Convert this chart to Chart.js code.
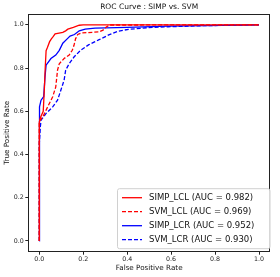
<!DOCTYPE html>
<html><head><meta charset="utf-8">
<script src="https://cdn.jsdelivr.net/npm/chart.js@4/dist/chart.umd.min.js"></script>
<style>html,body{margin:0;padding:0;background:#fff}#wrap{width:280px;height:277px}</style>
</head><body><div id="wrap"><canvas id="c" width="280" height="277"></canvas></div>
<script>
const titleText = "ROC Curve : SIMP vs. SVM";
const xLabel = "False Positive Rate";
const yLabel = "True Positive Rate";
const tickValues = [0, 0.2, 0.4, 0.6, 0.8, 1.0];
const seriesNames = ["SIMP_LCL (AUC = 0.982)", "SVM_LCL (AUC = 0.969)", "SIMP_LCR (AUC = 0.952)", "SVM_LCR (AUC = 0.930)"];

const simpLclFpr = [0, 0, 0.005, 0.018, 0.023, 0.027, 0.031, 0.037, 0.047, 0.055, 0.063, 0.072, 0.09, 0.107, 0.12, 0.13, 0.155, 0.182, 0.2, 1.0];
const simpLclTpr = [0, 0.55, 0.57, 0.60, 0.70, 0.80, 0.88, 0.895, 0.922, 0.935, 0.945, 0.958, 0.962, 0.965, 0.972, 0.98, 0.988, 0.998, 1.0, 1.0];

const svmLclFpr = [0, 0, 0.005, 0.016, 0.038, 0.061, 0.075, 0.083, 0.091, 0.113, 0.136, 0.15, 0.158, 0.165, 0.175, 0.19, 0.27, 0.29, 0.305, 0.32, 1.0];
const svmLclTpr = [0, 0.55, 0.56, 0.574, 0.62, 0.667, 0.713, 0.79, 0.82, 0.844, 0.86, 0.882, 0.905, 0.935, 0.955, 0.962, 0.967, 0.975, 0.99, 0.999, 1.0];

const simpLcrFpr = [0, 0, 0.002, 0.008, 0.02, 0.026, 0.031, 0.053, 0.075, 0.091, 0.107, 0.127, 0.14, 0.16, 0.182, 0.209, 0.254, 0.4, 0.586, 1.0];
const simpLcrTpr = [0, 0.55, 0.62, 0.651, 0.667, 0.759, 0.813, 0.844, 0.86, 0.882, 0.915, 0.935, 0.948, 0.955, 0.972, 0.98, 0.985, 0.988, 0.994, 1.0];

const svmLcrFpr = [0, 0, 0.005, 0.008, 0.031, 0.061, 0.083, 0.098, 0.113, 0.12, 0.136, 0.158, 0.188, 0.224, 0.254, 0.27, 0.316, 0.361, 0.406, 0.496, 0.586, 0.75, 1.0];
const svmLcrTpr = [0, 0.45, 0.53, 0.559, 0.59, 0.62, 0.651, 0.697, 0.744, 0.79, 0.82, 0.851, 0.882, 0.907, 0.922, 0.93, 0.953, 0.971, 0.979, 0.987, 0.991, 0.996, 1.0];

const FONT = "'DejaVu Sans', sans-serif";
const pts = (xs, ys) => xs.map((x, i) => ({x: x, y: ys[i]}));

const frameAndText = {
  id: 'frameAndText',
  afterDraw(chart) {
    const ctx = chart.ctx, a = chart.chartArea;
    ctx.save();
    ctx.strokeStyle = '#222';
    ctx.lineWidth = 1;
    ctx.strokeRect(Math.round(a.left) + 0.5, Math.round(a.top) + 0.5, Math.round(a.right - a.left) - 1, Math.round(a.bottom - a.top) - 1);
    // title
    ctx.fillStyle = '#111';
    ctx.font = "7.5px " + FONT;
    ctx.textAlign = 'center';
    ctx.textBaseline = 'middle';
    ctx.fillText(titleText, (a.left + a.right) / 2, 7);
    // legend
    const bx = a.right - 153, by = a.bottom - 63.5, bw = 152.5, bh = 60;
    ctx.fillStyle = 'rgba(255,255,255,0.85)';
    ctx.strokeStyle = '#d0d0d0';
    ctx.lineWidth = 1;
    ctx.beginPath();
    if (ctx.roundRect) ctx.roundRect(bx + 0.5, by + 0.5, bw, bh, 2); else ctx.rect(bx + 0.5, by + 0.5, bw, bh);
    ctx.fill(); ctx.stroke();
    ctx.font = "8.5px " + FONT;
    ctx.textAlign = 'left';
    chart.data.datasets.forEach((ds, i) => {
      const y = by + 9.5 + i * 14;
      ctx.strokeStyle = ds.borderColor;
      ctx.lineWidth = 1.3;
      ctx.setLineDash(ds.borderDash || []);
      ctx.beginPath(); ctx.moveTo(bx + 5, y); ctx.lineTo(bx + 25, y); ctx.stroke();
      ctx.setLineDash([]);
      ctx.fillStyle = '#111';
      ctx.fillText(ds.label, bx + 32, y + 0.5);
    });
    ctx.restore();
  }
};

const mk = (label, xs, ys, color, dash) => ({
  label: label, data: pts(xs, ys), borderColor: color, backgroundColor: color,
  borderWidth: 1.3, borderDash: dash, showLine: true, pointRadius: 0, tension: 0, fill: false
});

const fixTicks = scale => { scale.ticks = tickValues.map(v => ({value: v})); };

new Chart(document.getElementById('c'), {
  type: 'scatter',
  data: {
    datasets: [
      mk(seriesNames[0], simpLclFpr, simpLclTpr, '#ff0000', []),
      mk(seriesNames[1], svmLclFpr, svmLclTpr, '#ff0000', [4, 2]),
      mk(seriesNames[2], simpLcrFpr, simpLcrTpr, '#0000ff', []),
      mk(seriesNames[3], svmLcrFpr, svmLcrTpr, '#0000ff', [4, 2])
    ]
  },
  options: {
    responsive: false, animation: false, devicePixelRatio: 1,
    layout: {padding: {top: 14, right: 10, left: 0, bottom: 0}},
    plugins: {legend: {display: false}, title: {display: false}, tooltip: {enabled: false}},
    scales: {
      x: {
        type: 'linear', min: -0.05, max: 1.05,
        afterBuildTicks: fixTicks,
        afterFit: s => { s.height = 25.3; },
        grid: {display: true, drawOnChartArea: false, tickLength: 3, tickColor: '#222'},
        border: {display: false},
        ticks: {padding: 0.5, color: '#222', font: {family: FONT, size: 6.3}, callback: v => Number(v).toFixed(1), maxRotation: 0},
        title: {display: true, text: xLabel, color: '#111', font: {family: FONT, size: 7.2}, padding: {top: 1, bottom: 4.7}}
      },
      y: {
        type: 'linear', min: -0.05, max: 1.05,
        afterBuildTicks: fixTicks,
        afterFit: s => { s.width = 28.3; },
        grid: {display: true, drawOnChartArea: false, tickLength: 3, tickColor: '#222'},
        border: {display: false},
        ticks: {padding: 1.5, color: '#222', font: {family: FONT, size: 6.3}, callback: v => Number(v).toFixed(1)},
        title: {display: true, text: yLabel, color: '#111', font: {family: FONT, size: 7.2}, padding: {top: 3, bottom: 0}}
      }
    }
  },
  plugins: [frameAndText]
});
</script></body></html>
